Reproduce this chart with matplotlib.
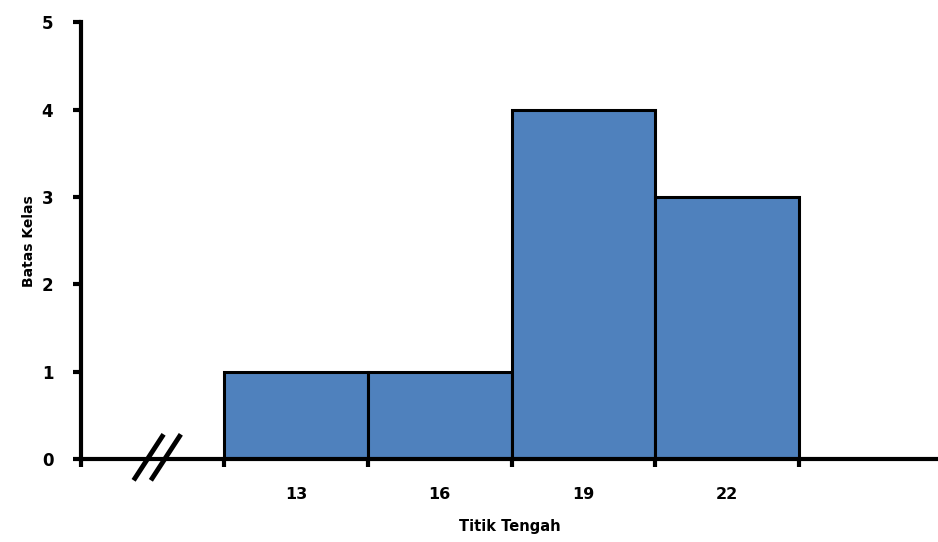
import matplotlib.pyplot as plt
import numpy as np

# class midpoints and frequencies
titik_tengah = ["13", "16", "19", "22"]
frekuensi = [1, 1, 4, 3]

fig = plt.figure(figsize=(9.38, 5.42), dpi=100)
ax = fig.add_axes([0.0864, 0.153, 0.9136, 0.806])

pos = np.arange(len(titik_tengah)) + 0.5
ax.bar(pos, frekuensi, width=1.0, color="#4f81bd", edgecolor="black",
       linewidth=2.2, zorder=2)

ax.set_xlim(-0.995, 4.967)
ax.set_ylim(0, 5)

for side in ["top", "right"]:
    ax.spines[side].set_visible(False)
for side in ["left", "bottom"]:
    ax.spines[side].set_linewidth(3)
    ax.spines[side].set_zorder(3)

# bar edges get tick marks, midpoints get the labels
ax.set_xticks([-0.995] + list(range(5)))
ax.set_xticklabels([])
ax.set_xticks(pos, minor=True)
ax.set_xticklabels(titik_tengah, minor=True, fontsize=11.5, fontweight="bold")
ax.tick_params(axis="x", which="major", direction="out", length=6, width=3)
ax.tick_params(axis="x", which="minor", length=0, pad=20)

ax.set_yticks(range(6))
ax.set_yticklabels([str(i) for i in range(6)], fontsize=12, fontweight="bold")
ax.tick_params(axis="y", direction="out", length=6, width=3, pad=14)

ax.set_xlabel("Titik Tengah", fontsize=10.5, fontweight="bold", labelpad=12)
ax.set_ylabel("Batas Kelas", fontsize=10, fontweight="bold", labelpad=4)

# axis break mark
for x0 in (-0.62, -0.50):
    ax.plot([x0, x0 + 0.19], [-0.22, 0.26], color="black", lw=3.5,
            clip_on=False, zorder=4)

fig.savefig("out.png", dpi=100)
